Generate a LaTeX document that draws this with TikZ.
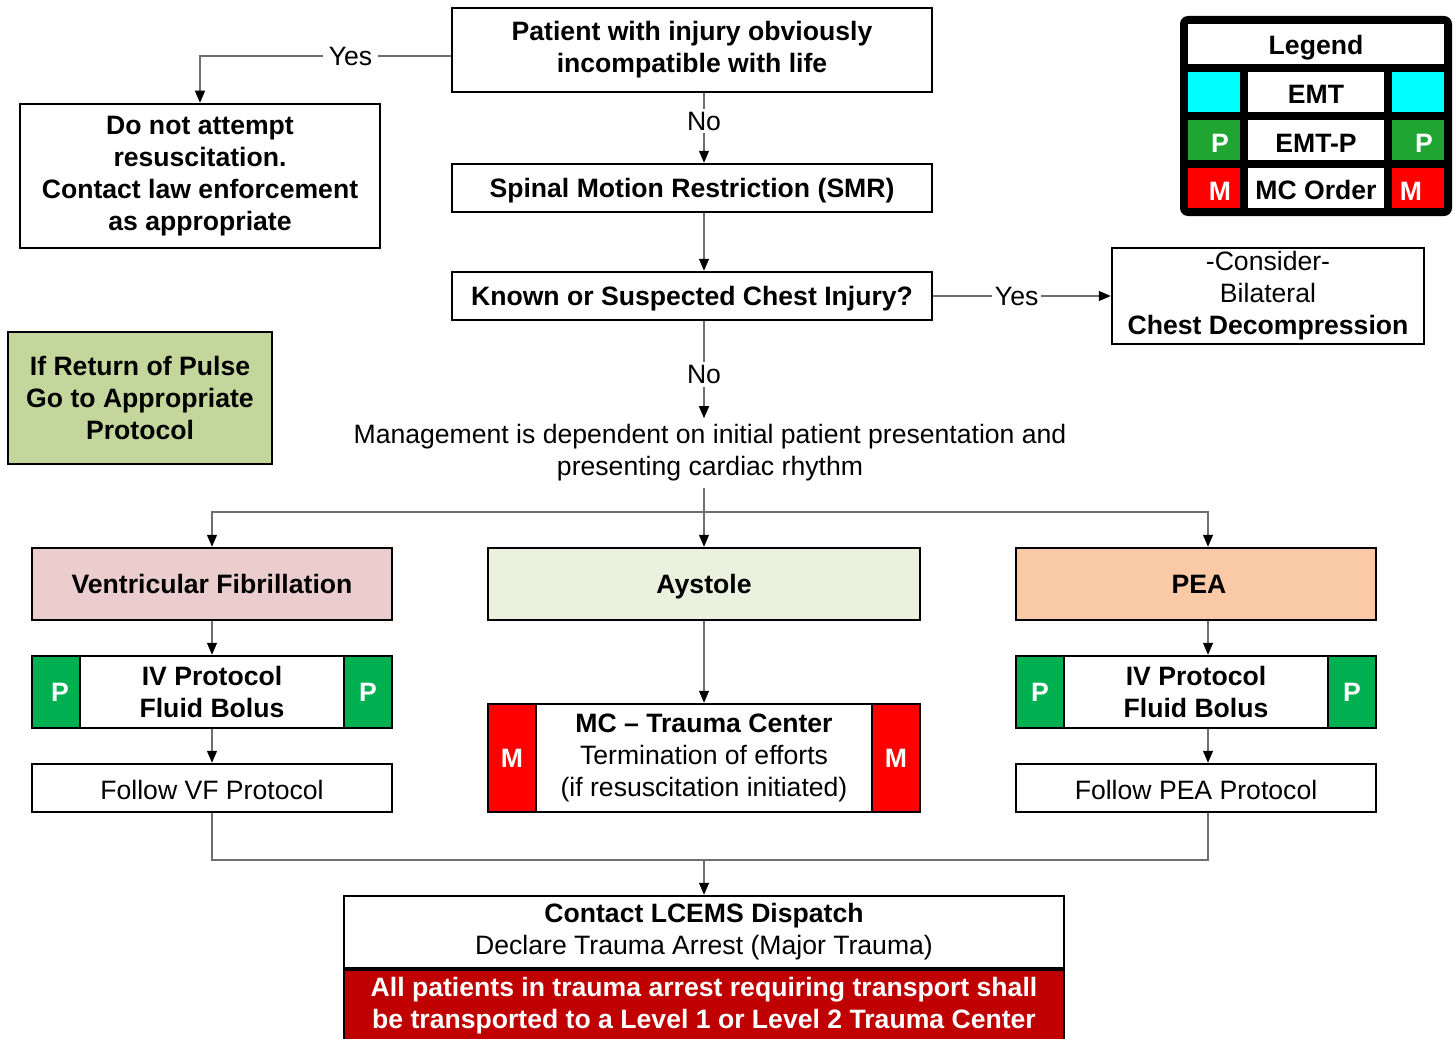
\documentclass[tikz,border=0pt]{standalone}
\usepackage{fontspec}
\setmainfont{Liberation Sans}
\usetikzlibrary{arrows.meta,calc}

\definecolor{vfpink}{RGB}{235,205,205}
\definecolor{asygreen}{RGB}{235,241,222}
\definecolor{peaorange}{RGB}{250,202,166}
\definecolor{olivebox}{RGB}{195,214,155}
\definecolor{pgreen}{RGB}{0,176,80}
\definecolor{lgreen}{RGB}{32,165,50}
\definecolor{mred}{RGB}{255,0,0}
\definecolor{darkred}{RGB}{192,0,0}
\definecolor{legcyan}{RGB}{0,255,255}
\definecolor{linegray}{RGB}{110,110,110}

\newcommand{\bodyfont}{\fontsize{13.3}{16}\selectfont}
% a tall zero-width strut on the first line evens out the vertical centring
\newcommand{\topstrut}{\rule{0pt}{12pt}}
\tikzset{
  txt/.style={font=\bodyfont},
  box/.style={txt, draw=black, line width=1.25pt, align=center, inner sep=0pt, fill=white,
    execute at begin node=\topstrut},
  bbox/.style={box, font=\bodyfont\bfseries},
  cell/.style={draw=black, line width=1.25pt, inner sep=0pt, text=white, font=\bodyfont\bfseries},
  legcell/.style={inner sep=0pt, font=\bodyfont\bfseries, execute at begin node=\topstrut},
  conn/.style={draw=linegray, line width=0.6pt, -{Triangle[length=6pt,width=5pt,color=black]}},
  plain/.style={draw=linegray, line width=0.6pt},
  lbl/.style={txt, fill=white, inner xsep=3pt, inner ysep=1.5pt}
}

\begin{document}
\begin{tikzpicture}[x=0.5pt,y=-0.5pt]
\clip (0,0) rectangle (1454,1038);
\fill[white] (0,0) rectangle (1454,1038);

% reference columns for the vertical runs
\coordinate (spine) at (704,0);
\coordinate (pcol) at (1208,0);

% top decision chain
\node[bbox, minimum width=240pt, minimum height=42pt]
  (top) at (692,50) {Patient with injury obviously\\incompatible with life};
\node[bbox, minimum width=180pt, minimum height=72pt]
  (dna) at (200,176) {Do not attempt\\resuscitation.\\Contact law enforcement\\as appropriate};
\node[bbox, minimum width=240pt, minimum height=24pt]
  (smr) at (692,188) {Spinal Motion Restriction (SMR)};
\node[bbox, minimum width=240pt, minimum height=24pt]
  (chest) at (692,296) {Known or Suspected Chest Injury?};
\node[box, minimum width=156pt, minimum height=48pt]
  (consider) at (1268,296) {-Consider-\\Bilateral\\\textbf{Chest Decompression}};
\node[bbox, fill=olivebox, minimum width=132pt, minimum height=66pt]
  (rosc) at (140,398) {If Return of Pulse\\Go to Appropriate\\Protocol};
\node[txt, align=center, inner xsep=0pt, inner ysep=3pt]
  (mgmt) at (710,453) {Management is dependent on initial patient presentation and\\presenting cardiac rhythm};

% rhythm boxes
\node[bbox, fill=vfpink, minimum width=180pt, minimum height=36pt]
  (vf) at (212,584) {Ventricular Fibrillation\vphantom{y}};
\node[bbox, fill=asygreen, minimum width=216pt, minimum height=36pt]
  (ay) at (704,584) {Aystole};
\node[bbox, fill=peaorange, minimum width=180pt, minimum height=36pt]
  (pea) at (1196,584) {\hspace*{3pt}PEA\vphantom{y}};

% VF column
\node[bbox, minimum width=180pt, minimum height=36pt]
  (iva) at (212,692) {IV Protocol\\Fluid Bolus};
\node[cell, fill=pgreen, minimum width=24pt, minimum height=36pt] (iva-l) at (56,692) {\hspace*{4pt}P};
\node[cell, fill=pgreen, minimum width=24pt, minimum height=36pt] (iva-r) at (368,692) {P};
\node[box, minimum width=180pt, minimum height=24pt] (fvf) at (212,788) {Follow VF Protocol};

% asystole column
\node[box, minimum width=216pt, minimum height=54pt] (mc) at (704,758)
  {\textbf{MC -- Trauma Center}\\Termination of efforts\\(if resuscitation initiated)};
\node[cell, fill=mred, minimum width=24pt, minimum height=54pt] (mc-l) at (512,758) {M};
\node[cell, fill=mred, minimum width=24pt, minimum height=54pt] (mc-r) at (896,758) {M};

% PEA column
\node[bbox, minimum width=180pt, minimum height=36pt]
  (ivb) at (1196,692) {IV Protocol\\Fluid Bolus};
\node[cell, fill=pgreen, minimum width=24pt, minimum height=36pt] (ivb-l) at (1040,692) {P};
\node[cell, fill=pgreen, minimum width=24pt, minimum height=36pt] (ivb-r) at (1352,692) {P};
\node[box, minimum width=180pt, minimum height=24pt] (fpea) at (1196,788) {Follow PEA Protocol};

% final boxes
\node[box, minimum width=360pt, minimum height=36pt] (dispatch) at (704,932)
  {\textbf{Contact LCEMS Dispatch}\\Declare Trauma Arrest (Major Trauma)};
\node[bbox, fill=darkred, text=white, minimum width=360pt, minimum height=36pt, anchor=north,
  execute at begin node={}]
  (transport) at (704,968)
  {All patients in trauma arrest requiring transport shall\\be transported to a Level 1 or Level 2 Trauma Center};

% connectors
\draw[conn] (top.west) ++(0,6) -| node[lbl, pos=0.2] {Yes} (dna.north);
\draw[conn] (top.south -| spine) -- node[lbl, pos=0.4] {No} (smr.north -| spine);
\draw[conn] (smr.south -| spine) -- (chest.north -| spine);
\draw[conn] (chest.east) -- node[lbl, pos=0.47, inner xsep=1.5pt] {Yes} (consider.west);
\draw[conn] (chest.south -| spine) -- node[lbl, pos=0.55] {No} (mgmt.north -| spine);

\coordinate (split) at (704,512);
\draw[conn] (mgmt.south -| spine) -- (ay.north);
\draw[conn] (split) -| (vf.north);
\draw[conn] (split) -| (pea.north -| pcol);

\draw[conn] (vf.south) -- (iva.north);
\draw[conn] (iva.south) -- (fvf.north);
\draw[conn] (ay.south) -- (mc.north);
\draw[conn] (pea.south -| pcol) -- (ivb.north -| pcol);
\draw[conn] (ivb.south -| pcol) -- (fpea.north -| pcol);

\coordinate (merge) at (704,860);
\draw[plain] (fvf.south) |- (merge);
\draw[plain] (fpea.south -| pcol) |- (merge);
\draw[conn] (merge) -- (dispatch.north);

% legend
\fill[black, rounded corners=4pt] (1180,16) rectangle (1452,216);
\node[legcell, fill=white, minimum width=128pt, minimum height=20pt] (leg) at (1316,44) {\raisebox{-1.2pt}{Legend}};
\node[legcell, fill=legcyan, minimum width=26pt, minimum height=20pt] (emt-l) at (1214,92) {};
\node[legcell, fill=white, minimum width=68pt, minimum height=20pt] (emt) at (1316,92) {EMT};
\node[legcell, fill=legcyan, minimum width=26pt, minimum height=20pt] (emt-r) at (1418,92) {};
\node[legcell, fill=lgreen, text=white, minimum width=26pt, minimum height=20pt] (emtp-l) at (1214,140) {\hspace*{6pt}P};
\node[legcell, fill=white, minimum width=68pt, minimum height=20pt] (emtp) at (1316,140) {EMT-P};
\node[legcell, fill=lgreen, text=white, minimum width=26pt, minimum height=20pt] (emtp-r) at (1418,140) {\hspace*{6pt}P};
\node[legcell, fill=mred, text=white, minimum width=26pt, minimum height=20pt] (mco-l) at (1214,188) {\hspace*{6pt}M};
\node[legcell, fill=white, minimum width=68pt, minimum height=20pt] (mco) at (1316,188) {MC Order};
\node[legcell, fill=mred, text=white, minimum width=26pt, minimum height=20pt] (mco-r) at (1418,188) {\hspace*{-7pt}M};
\end{tikzpicture}
\end{document}
